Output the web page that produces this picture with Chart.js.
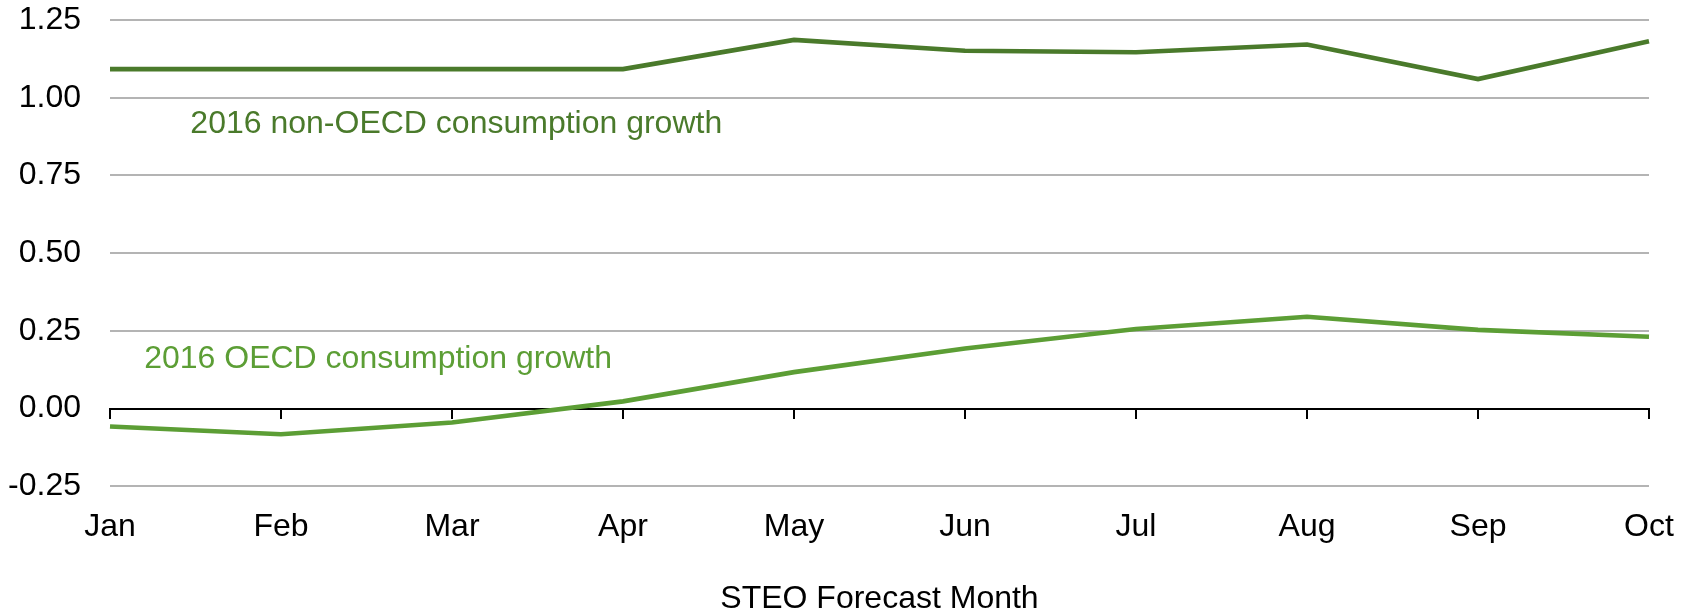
<!DOCTYPE html>
<html>
<head>
<meta charset="utf-8">
<script src="https://cdn.jsdelivr.net/npm/chart.js@4/dist/chart.umd.min.js"></script>
<style>
  html, body { margin: 0; padding: 0; background: #fff; }
  #wrap { width: 1696px; height: 613px; }
</style>
</head>
<body>
<div id="wrap"><canvas id="myLineChart"></canvas></div>
<script>
var months = ["Jan", "Feb", "Mar", "Apr", "May", "Jun", "Jul", "Aug", "Sep", "Oct"];
var nonOecd = [1.092, 1.092, 1.092, 1.092, 1.186, 1.151, 1.146, 1.171, 1.060, 1.182];
var oecd = [-0.058, -0.083, -0.045, 0.023, 0.117, 0.193, 0.256, 0.295, 0.253, 0.231];
var yTicks = [-0.25, 0, 0.25, 0.5, 0.75, 1.0, 1.25];

// in-chart series labels: text, category index, value
var noteTexts = ["2016 non-OECD consumption growth", "2016 OECD consumption growth"];
var noteX = [0.47, 0.2];
var noteY = [0.915, 0.16];
var colors = ['#4a7a2b', '#5c9e35'];

var font = "'Liberation Sans', Arial, sans-serif";

var seriesNotes = {
  id: 'seriesNotes',
  afterDatasetsDraw: function (chart) {
    var c = chart.ctx;
    var xs = chart.scales.x, ys = chart.scales.y;
    c.save();
    c.font = '32px ' + font;
    c.textAlign = 'left';
    c.textBaseline = 'middle';
    for (var i = 0; i < noteTexts.length; i++) {
      c.fillStyle = colors[i];
      c.fillText(noteTexts[i], xs.getPixelForValue(noteX[i]), ys.getPixelForValue(noteY[i]));
    }
    c.restore();
  }
};

var ctx = document.getElementById("myLineChart").getContext('2d');
var myLineChart = new Chart(ctx, {
  type: 'line',
  data: {
    labels: months,
    datasets: [{
      data: nonOecd,
      borderColor: colors[0],
      borderWidth: 4.6,
      pointRadius: 0,
      tension: 0
    }, {
      data: oecd,
      borderColor: colors[1],
      borderWidth: 4.6,
      pointRadius: 0,
      tension: 0
    }]
  },
  options: {
    responsive: true,
    maintainAspectRatio: false,
    animation: false,
    layout: {
      padding: { left: 8, right: 47, top: 0, bottom: 0 }
    },
    plugins: {
      legend: { display: false },
      tooltip: { enabled: false }
    },
    scales: {
      x: {
        position: 'bottom',
        grid: { display: false, drawTicks: false },
        border: { display: false },
        ticks: {
          color: '#000',
          font: { family: font, size: 32 },
          padding: 22,
          maxRotation: 0,
          autoSkip: false
        },
        title: {
          display: true,
          text: 'STEO Forecast Month',
          color: '#000',
          font: { family: font, size: 32 },
          padding: { top: 11, bottom: -5 }
        }
      },
      // zero line with tick marks
      x0: {
        type: 'category',
        position: { y: 0 },
        grid: { drawOnChartArea: false, drawTicks: true, tickLength: 9, color: '#000', lineWidth: 2 },
        border: { display: true, color: '#000', width: 2 },
        ticks: { display: false }
      },
      y: {
        min: -0.25,
        max: 1.25,
        afterBuildTicks: function (axis) {
          axis.ticks = yTicks.map(function (v) { return { value: v }; });
        },
        afterFit: function (axis) {
          axis.width = 102;
          axis.paddingTop = 20;
          axis.paddingBottom = 19;
        },
        grid: { color: '#b4b4b4', lineWidth: 2, drawTicks: false },
        border: { display: false },
        ticks: {
          color: '#000',
          font: { family: font, size: 32 },
          padding: 29,
          callback: function (v) { return v.toFixed(2); }
        }
      }
    }
  },
  plugins: [seriesNotes]
});
</script>
</body>
</html>
